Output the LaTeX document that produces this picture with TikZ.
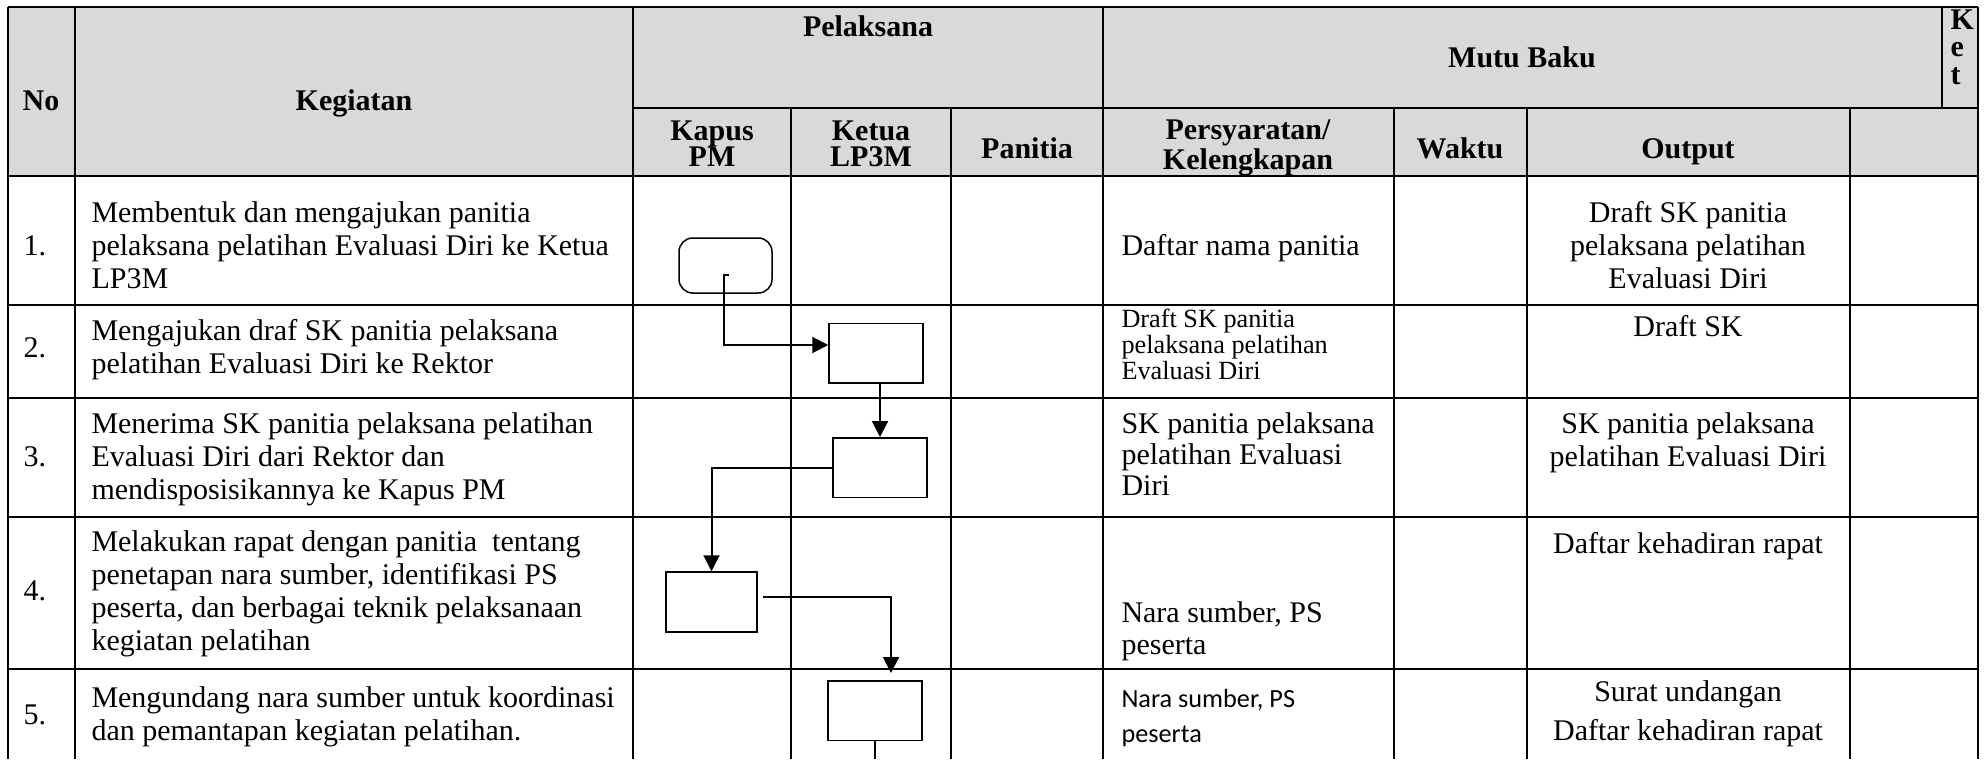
\documentclass[tikz,border=0pt]{standalone}
\usepackage{fontspec}
\setmainfont{Liberation Serif}
\newfontfamily\calibrifont{Carlito}
\usetikzlibrary{arrows.meta}
\definecolor{hdrgray}{HTML}{D9D9D9}
\begin{document}
\begin{tikzpicture}[x=0.4pt,y=-0.4pt,
  hl/.style={line width=0.85pt},
  vl/.style={line width=0.6pt},
  txt/.style={inner sep=0pt,font=\fontsize{12}{13.2}\selectfont},
  hd/.style={inner sep=0pt,font=\fontsize{12}{10.6}\selectfont\bfseries},
  ketstyle/.style={inner sep=0pt,align=left,font=\fontsize{12}{11}\selectfont\bfseries},
  sml/.style={inner sep=0pt,font=\fontsize{10.5}{11}\selectfont},
  cal/.style={inner sep=0pt,font=\calibrifont\fontsize{10.5}{12}\selectfont},
  procbox/.style={draw,line width=0.6pt,inner sep=0pt,minimum width=37.6pt,minimum height=23.8pt},
  termbox/.style={draw,line width=0.6pt,inner sep=0pt,minimum width=37.2pt,minimum height=22pt,rounded corners=5.5pt},
  conn/.style={line width=0.8pt},
  arr/.style={conn,-{Triangle[width=6.4pt,length=6.4pt]}}]
\useasboundingbox (0,0) rectangle (1984,759);
% header fill
\fill[hdrgray] (8,7) rectangle (1978,176);
% horizontal lines
\draw[hl] (8,7) -- (1978,7);
\draw[hl] (633,108) -- (1978,108);
\draw[hl] (8,176) -- (1978,176);
\foreach \yy in {305,398,517,669} \draw[hl] (8,\yy) -- (1978,\yy);
% vertical lines
\foreach \xx in {8,75,633,1103,1978} \draw[vl] (\xx,7) -- (\xx,759);
\foreach \xx in {791,951,1394,1527,1850} \draw[vl] (\xx,108) -- (\xx,759);
\draw[vl] (1942,7) -- (1942,108);
% header text
\node[hd,anchor=base] (hno) at (41,110) {No};
\node[hd,anchor=base] (hkeg) at (354,110) {Kegiatan};
\node[hd,anchor=base] (hpel) at (868,37) {Pelaksana};
\node[hd,anchor=base] (hmutu) at (1522,68) {Mutu Baku};
\node[ketstyle,anchor=north west] (hket) at (1950,9) {K\\e\\t};
\node[hd,align=center,anchor=north] (hkap) at (712,120) {Kapus\\PM};
\node[hd,align=center,anchor=north] (hketua) at (871,120) {Ketua\\LP3M};
\node[hd,anchor=base] (hpan) at (1027,158) {Panitia};
\node[hd,align=center,anchor=north] (hper) at (1248,119) {Persyaratan/\\Kelengkapan};
\node[hd,anchor=base] (hwak) at (1460,158) {Waktu};
\node[hd,anchor=base] (hout) at (1688,159) {Output};
% row 1
\node[txt,anchor=base] (n1) at (35,255) {1.};
\node[txt,anchor=base west] (k1a) at (91,222) {Membentuk dan mengajukan panitia};
\node[txt,anchor=base west] (k1b) at (91,255) {pelaksana pelatihan Evaluasi Diri ke Ketua};
\node[txt,anchor=base west] (k1c) at (91,288) {LP3M};
\node[txt,anchor=base west] (p1) at (1121,255) {Daftar nama panitia};
\node[txt,anchor=base] (o1a) at (1688,222) {Draft SK panitia};
\node[txt,anchor=base] (o1b) at (1688,255) {pelaksana pelatihan};
\node[txt,anchor=base] (o1c) at (1688,288) {Evaluasi Diri};
% row 2
\node[txt,anchor=base] (n2) at (35,357) {2.};
\node[txt,anchor=base west] (k2a) at (91,340) {Mengajukan draf SK panitia pelaksana};
\node[txt,anchor=base west] (k2b) at (91,373) {pelatihan Evaluasi Diri ke Rektor};
\node[sml,anchor=base west] (p2a) at (1121,327) {Draft SK panitia};
\node[sml,anchor=base west] (p2b) at (1121,353) {pelaksana pelatihan};
\node[sml,anchor=base west] (p2c) at (1121,379) {Evaluasi Diri};
\node[txt,anchor=base] (o2) at (1688,336) {Draft SK};
% row 3
\node[txt,anchor=base] (n3) at (35,466) {3.};
\node[txt,anchor=base west] (k3a) at (91,433) {Menerima SK panitia pelaksana pelatihan};
\node[txt,anchor=base west] (k3b) at (91,466) {Evaluasi Diri dari Rektor dan};
\node[txt,anchor=base west] (k3c) at (91,499) {mendisposisikannya ke Kapus PM};
\node[txt,anchor=base west] (p3a) at (1121,433) {SK panitia pelaksana};
\node[txt,anchor=base west] (p3b) at (1121,464) {pelatihan Evaluasi};
\node[txt,anchor=base west] (p3c) at (1121,495) {Diri};
\node[txt,anchor=base] (o3a) at (1688,433) {SK panitia pelaksana};
\node[txt,anchor=base] (o3b) at (1688,466) {pelatihan Evaluasi Diri};
% row 4
\node[txt,anchor=base] (n4) at (35,600) {4.};
\node[txt,anchor=base west] (k4a) at (91,551) {Melakukan rapat dengan panitia\ \ tentang};
\node[txt,anchor=base west] (k4b) at (91,584) {penetapan nara sumber, identifikasi PS};
\node[txt,anchor=base west] (k4c) at (91,617) {peserta, dan berbagai teknik pelaksanaan};
\node[txt,anchor=base west] (k4d) at (91,650) {kegiatan pelatihan};
\node[txt,anchor=base west] (p4a) at (1121,622) {Nara sumber, PS};
\node[txt,anchor=base west] (p4b) at (1121,654) {peserta};
\node[txt,anchor=base] (o4) at (1688,553) {Daftar kehadiran rapat};
% row 5
\node[txt,anchor=base] (n5) at (35,724) {5.};
\node[txt,anchor=base west] (k5a) at (91,707) {Mengundang nara sumber untuk koordinasi};
\node[txt,anchor=base west] (k5b) at (91,740) {dan pemantapan kegiatan pelatihan.};
\node[cal,anchor=base west] (p5a) at (1121,707) {Nara sumber, PS};
\node[cal,anchor=base west] (p5b) at (1121,742) {peserta};
\node[txt,anchor=base] (o5a) at (1688,701) {Surat undangan};
\node[txt,anchor=base] (o5b) at (1688,740) {Daftar kehadiran rapat};
% flowchart
\node[termbox] (term) at (725.5,265.5) {};
\node[procbox] (box2) at (876,353) {};
\node[procbox] (box3) at (880,467.5) {};
\node[procbox,minimum width=36.4pt,minimum height=24pt] (box4) at (711.5,602) {};
\node[procbox] (box5) at (875,710.5) {};
\coordinate (c1s) at (729,275);
\coordinate (c1k) at (724,275);
\coordinate (c1b) at (724,345);
\draw[arr] (c1s) -- (c1k) -- (c1b) -- (c1b -| box2.west);
\draw[arr] (box3.north |- box2.south) -- (box3.north);
\draw[arr] (box3.west) -| (box4.north);
\coordinate (c4s) at (763,597);
\coordinate (c4e) at (891,673);
\draw[arr] (c4s) -| (c4e);
\coordinate (c5e) at (875,759);
\draw[conn] (box5.south) -- (c5e);
\end{tikzpicture}
\end{document}
